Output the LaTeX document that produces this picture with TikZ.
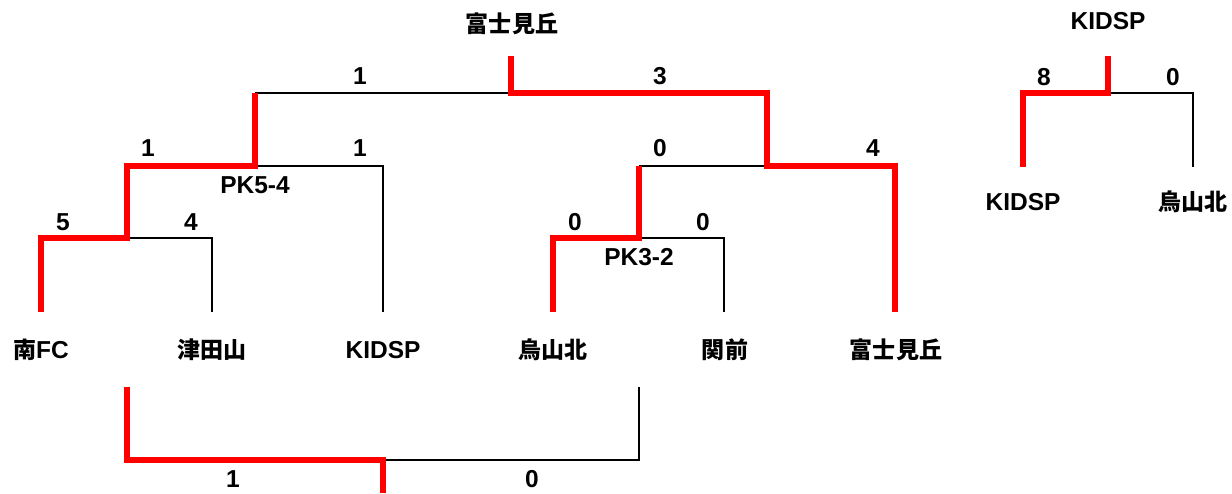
\documentclass[tikz,border=0pt]{standalone}
\usepackage{fontspec}
\setmainfont{Liberation Sans}
\newfontfamily\cjk{Noto Sans CJK JP}[Scale=0.94]
\begin{document}
\begin{tikzpicture}[x=1pt,y=-1pt,
  lbl/.style={inner sep=0pt,font=\fontsize{24.5}{28}\selectfont\bfseries},
  score/.style={inner sep=0pt,font=\fontsize{24.5}{28}\selectfont\bfseries},
  win/.style={draw=red,line width=6pt,line join=miter},
  lose/.style={draw=black,line width=2.7pt,line join=miter}]
\useasboundingbox[fill=white] (0,0) rectangle (1232,493);
% team labels
\node[lbl] (t1) at (41,350) {{\cjk 南}FC};
\node[lbl] (t2) at (212,350) {\cjk 津田山};
\node[lbl] (t3) at (383,350) {KIDSP};
\node[lbl] (t4) at (553,350) {\cjk 烏山北};
\node[lbl] (t5) at (725,350) {\cjk 関前};
\node[lbl] (t6) at (896,350) {\cjk 富士見丘};
\node[lbl] (champ) at (512,24) {\cjk 富士見丘};
\node[lbl] (r1) at (1023,202) {KIDSP};
\node[lbl] (r2) at (1193,202) {\cjk 烏山北};
\node[lbl] (rw) at (1108,21) {KIDSP};
% scores
\node[score] (s1) at (63,222) {5};
\node[score] (s2) at (191,222) {4};
\node[score] (s3) at (148,148) {1};
\node[score] (s4) at (360,148) {1};
\node[score] (pk1) at (255,185) {PK5-4};
\node[score] (s5) at (575,222) {0};
\node[score] (s6) at (703,222) {0};
\node[score] (pk2) at (639,257) {PK3-2};
\node[score] (s7) at (660,148) {0};
\node[score] (s8) at (873,148) {4};
\node[score] (s9) at (360,76) {1};
\node[score] (s10) at (660,76) {3};
\node[score] (s11) at (1044,77) {8};
\node[score] (s12) at (1173,77) {0};
\node[score] (s13) at (233,479) {1};
\node[score] (s14) at (532,479) {0};
% junction coordinates
\coordinate (a1) at (41,312);   \coordinate (a2) at (212,312);
\coordinate (a3) at (383,312);  \coordinate (a4) at (553,312);
\coordinate (a5) at (724,312);  \coordinate (a6) at (895,312);
\coordinate (j1) at (127,238);  \coordinate (j2) at (255,166);
\coordinate (j3) at (639,238);  \coordinate (j4) at (767,166);
\coordinate (j5) at (511,93);   \coordinate (top) at (511,56);
\coordinate (b1) at (1023,167); \coordinate (b2) at (1193,167);
\coordinate (j6) at (1108,93);  \coordinate (rtop) at (1108,56);
\coordinate (c1) at (127,387);  \coordinate (c2) at (639,387);
\coordinate (j7) at (383,460);  \coordinate (cbot) at (383,493);
% losers (black)
\draw[lose] (j1) -- (a2 |- j1) -- (a2);
\draw[lose] (j2) -- (a3 |- j2) -- (a3);
\draw[lose] (j2 |- j5) -- (j5);
\draw[lose] (j3) -- (a5 |- j3) -- (a5);
\draw[lose] (j3 |- j4) -- (j4);
\draw[lose] (j6) -- (b2 |- j6) -- (b2);
\draw[lose] (j7) -- (c2 |- j7) -- (c2);
% winners (red)
\draw[win] (a1) -- (a1 |- j1) -- (j1) -- (j1 |- j2) -- (j2) -- (j2 |- j5);
\draw[win] (a4) -- (a4 |- j3) -- (j3) -- (j3 |- j4);
\draw[win] (top) -- (j5) -- (j4 |- j5) -- (j4) -- (a6 |- j4) -- (a6);
\draw[win] (b1) -- (b1 |- j6) -- (j6) -- (rtop);
\draw[win] (c1) -- (c1 |- j7) -- (j7) -- (cbot);
\end{tikzpicture}
\end{document}
